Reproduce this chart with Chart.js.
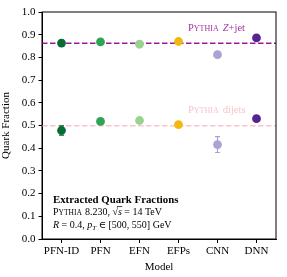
<!DOCTYPE html>
<html><head><meta charset="utf-8">
<script src="https://cdn.jsdelivr.net/npm/chart.js@4"></script>
<style>html,body{margin:0;padding:0;background:#fff}</style></head>
<body><canvas id="c" width="287" height="277"></canvas>
<script>
const models = ['PFN-ID','PFN','EFN','EFPs','CNN','DNN'];
const zjetFrac = [0.863,0.868,0.858,0.870,0.812,0.886];
const zjetErr  = [0.012,0.006,0.005,0.009,0.010,0.009];
const dijetFrac = [0.478,0.518,0.522,0.504,0.416,0.530];
const dijetErr  = [0.020,0.006,0.005,0.011,0.035,0.007];
const zjetTruth = 0.862;
const dijetTruth = 0.499;
const yTickValues = [0,0.1,0.2,0.3,0.4,0.5,0.6,0.7,0.8,0.9,1.0];
const modelColors = ['#0a6b35','#2fa454','#98d48f','#f1b80d','#a8a4d3','#54258f'];

const SERIF = '"Liberation Serif", "DejaVu Serif", serif';

function drawRuns(ctx, x, y, runs){
  for (const r of runs){
    ctx.font = r.f;
    ctx.fillStyle = r.c || '#000';
    ctx.fillText(r.t, x, y + (r.dy||0));
    const w = ctx.measureText(r.t).width;
    if (r.over){
      ctx.save(); ctx.strokeStyle = r.c||'#000'; ctx.lineWidth=0.7;
      ctx.beginPath(); ctx.moveTo(x-1, y-8.5); ctx.lineTo(x+w+0.5, y-8.5); ctx.stroke(); ctx.restore();
    }
    x += w + (r.sp||0);
  }
  return x;
}

const extras = {
  id:'extras',
  beforeDatasetsDraw(chart){
    const {ctx, chartArea:a, scales:{x,y}} = chart;
    ctx.save();
    ctx.lineWidth = 1.5;
    ctx.setLineDash([5.5,2.5]);
    ctx.strokeStyle = '#9b1a9b';
    let py = y.getPixelForValue(zjetTruth);
    ctx.beginPath(); ctx.moveTo(a.left, py); ctx.lineTo(a.right, py); ctx.stroke();
    ctx.strokeStyle = '#f9c3cc';
    py = y.getPixelForValue(dijetTruth);
    ctx.beginPath(); ctx.moveTo(a.left, py); ctx.lineTo(a.right, py); ctx.stroke();
    ctx.setLineDash([]);
    ctx.lineWidth = 1.2;
    const sets = [[zjetFrac,zjetErr],[dijetFrac,dijetErr]];
    for (const [v,e] of sets){
      v.forEach((val,i)=>{
        const px = x.getPixelForValue(i);
        const y1 = y.getPixelForValue(val-e[i]);
        const y2 = y.getPixelForValue(val+e[i]);
        ctx.strokeStyle = modelColors[i];
        ctx.beginPath();
        ctx.moveTo(px,y1); ctx.lineTo(px,y2);
        ctx.moveTo(px-2.5,y1); ctx.lineTo(px+2.5,y1);
        ctx.moveTo(px-2.5,y2); ctx.lineTo(px+2.5,y2);
        ctx.stroke();
      });
    }
    ctx.restore();
  },
  afterDraw(chart){
    const {ctx, chartArea:a} = chart;
    ctx.save();
    ctx.strokeStyle = '#000'; ctx.lineWidth = 1;
    ctx.strokeRect(a.left, a.top, a.right-a.left, a.bottom-a.top);
    ctx.textBaseline = 'alphabetic'; ctx.textAlign = 'left';
    const big = '10px '+SERIF, sm = '7.5px '+SERIF, it = 'italic 10px '+SERIF;
    const lbig = '10.5px '+SERIF, lsm = '8px '+SERIF, lit = 'italic 10.5px '+SERIF;
    const zc = '#a3349f';
    drawRuns(ctx, 188, 31, [
      {t:'P',f:lbig,c:zc},{t:'YTHIA',f:lsm,c:zc,sp:4},{t:'Z',f:lit,c:zc},{t:'+jet',f:lbig,c:zc}
    ]);
    const dc = '#f9c3cc';
    drawRuns(ctx, 188, 113, [
      {t:'P',f:lbig,c:dc},{t:'YTHIA',f:lsm,c:dc,sp:4},{t:'dijets',f:lbig,c:dc}
    ]);
    ctx.fillStyle = '#000';
    ctx.font = 'bold 10.8px '+SERIF;
    ctx.fillText('Extracted Quark Fractions', 53, 203);
    drawRuns(ctx, 53, 215, [
      {t:'P',f:big},{t:'YTHIA',f:sm,sp:3},{t:'8.230, ',f:big},{t:'\u221A',f:big},{t:'s',f:it,over:true},{t:' = 14 TeV',f:big}
    ]);
    drawRuns(ctx, 53, 228, [
      {t:'R',f:it},{t:' = 0.4, ',f:big},{t:'p',f:it},{t:'T',f:'italic 7px '+SERIF,dy:2},{t:' \u2208 [500, 550] GeV',f:big}
    ]);
    ctx.restore();
  }
};

new Chart(document.getElementById('c'), {
  type:'line',
  data:{
    labels: models,
    datasets:[
      {data:zjetFrac, showLine:false, pointRadius:4.4, pointHoverRadius:4.4, pointBorderWidth:0,
       pointBackgroundColor:modelColors, pointBorderColor:modelColors},
      {data:dijetFrac, showLine:false, pointRadius:4.4, pointHoverRadius:4.4, pointBorderWidth:0,
       pointBackgroundColor:modelColors, pointBorderColor:modelColors}
    ]
  },
  options:{
    responsive:false, animation:false, devicePixelRatio:1,
    layout:{padding:{left:0,right:11,top:12,bottom:0}},
    plugins:{legend:{display:false}, tooltip:{enabled:false}},
    scales:{
      x:{
        type:'category', offset:true,
        grid:{display:true, drawOnChartArea:false, drawTicks:true, tickLength:4, color:'#000', offset:false},
        border:{display:true, color:'#000', width:1},
        ticks:{color:'#000', font:{family:SERIF, size:11}, padding:2, maxRotation:0},
        title:{display:true, text:'Model', color:'#000', font:{family:SERIF, size:11}, padding:{top:0,bottom:3}},
        afterFit(s){ s.height = 38; }
      },
      y:{
        min:0, max:1,
        afterBuildTicks(s){ s.ticks = yTickValues.map(v=>({value:v})); },
        grid:{display:true, drawOnChartArea:false, drawTicks:true, tickLength:3.5, color:'#000'},
        border:{display:true, color:'#000', width:1},
        ticks:{color:'#000', font:{family:SERIF, size:11}, padding:3, callback:v=>Number(v).toFixed(1)},
        title:{display:true, text:'Quark Fraction', color:'#000', font:{family:SERIF, size:11}, padding:{top:0,bottom:2}},
        afterFit(s){ s.width = 42; }
      }
    }
  },
  plugins:[extras]
});
</script></body></html>
